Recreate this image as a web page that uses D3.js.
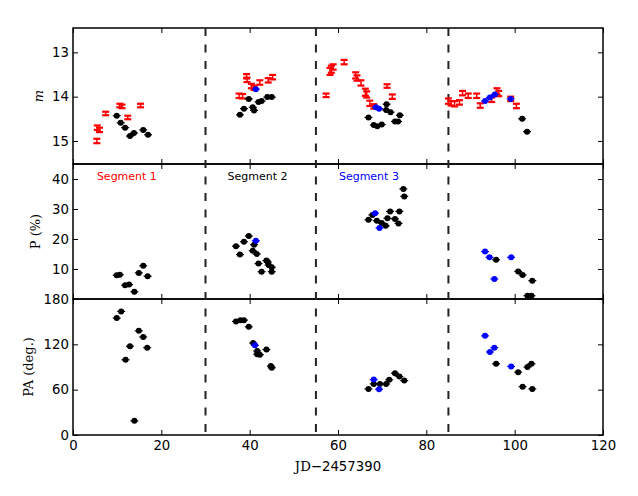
<!DOCTYPE html>
<html>
<head>
<meta charset="utf-8">
<script src="https://cdn.jsdelivr.net/npm/d3@7"></script>
<style>
  body { margin: 0; background: #fff; }
  text { font-family: "DejaVu Sans", sans-serif; }
</style>
</head>
<body>
<div id="chart"></div>
<script>
// values: [JD-2457390, value]
const segmentBounds = [30, 55, 85];
const segmentLabels = ["Segment 1", "Segment 2", "Segment 3"];
const segmentLabelX = [12.2, 41.8, 67];
const segmentColors = ["#ff0000", "#000000", "#0000ff"];

const xTicks = [0, 20, 40, 60, 80, 100, 120];
const magTicks = [13, 14, 15];
const polTicks = [10, 20, 30, 40];
const paTicks = [0, 60, 120, 180];

// magnitude, red = [x, m, err]
const magRed = [
  [5.4, 15.0, 0.05], [5.5, 14.7, 0.05], [6.0, 14.75, 0.05], [7.4, 14.38, 0.04],
  [10.6, 14.2, 0.04], [11.1, 14.22, 0.04], [12.4, 14.47, 0.04], [15.3, 14.2, 0.04],
  [37.6, 13.98, 0.05], [38.4, 13.99, 0.05], [39.3, 13.54, 0.05], [39.4, 13.62, 0.05],
  [40.4, 13.76, 0.05], [41.0, 13.8, 0.05], [42.3, 13.68, 0.05], [44.2, 13.63, 0.05],
  [45.2, 13.56, 0.05],
  [57.3, 13.97, 0.04], [58.2, 13.43, 0.08], [58.5, 13.38, 0.08], [58.9, 13.33, 0.06],
  [61.4, 13.22, 0.05], [64.0, 13.52, 0.07], [64.3, 13.58, 0.06], [65.2, 13.69, 0.06],
  [66.2, 13.9, 0.08], [66.5, 13.95, 0.07], [67.2, 14.15, 0.06], [68.1, 14.22, 0.05],
  [71.1, 13.76, 0.04], [72.3, 14.0, 0.05],
  [85.0, 14.1, 0.06], [85.6, 14.15, 0.05], [86.4, 14.16, 0.06], [87.5, 14.13, 0.05],
  [88.2, 13.92, 0.05], [89.5, 13.98, 0.05], [91.4, 13.98, 0.05], [92.2, 14.2, 0.05],
  [94.8, 14.07, 0.05], [96.0, 13.88, 0.07], [96.4, 13.93, 0.06], [99.1, 14.05, 0.05],
  [100.4, 14.21, 0.05]
];
const magBlack = [
  [9.9, 14.43], [10.8, 14.59], [11.8, 14.7], [12.9, 14.89], [13.8, 14.82], [15.9, 14.75], [17.0, 14.86],
  [37.8, 14.41], [38.7, 14.27], [39.8, 14.05], [40.7, 14.24], [41.0, 14.31], [42.0, 14.12],
  [42.7, 14.1], [44.0, 14.01], [45.0, 14.01],
  [66.9, 14.47], [68.1, 14.64], [68.9, 14.67], [69.9, 14.63], [71.0, 14.17], [70.9, 14.3],
  [71.9, 14.35], [72.9, 14.56], [73.6, 14.56], [74.0, 14.42],
  [101.7, 14.5], [102.8, 14.79]
];
const magBlue = [
  [41.4, 13.83], [68.6, 14.24], [69.3, 14.27],
  [93.3, 14.1], [94.4, 14.02], [95.5, 13.95], [99.1, 14.05]
];

// polarisation degree P (%)
const polBlack = [
  [9.9, 7.9], [10.6, 8.1], [11.8, 4.6], [12.7, 4.8], [13.9, 2.4], [14.9, 8.7], [15.9, 11.1], [16.9, 7.6],
  [36.9, 17.6], [37.8, 14.8], [38.7, 19.1], [39.8, 21.0], [41.0, 18.1], [40.7, 16.1], [41.6, 15.0],
  [42.0, 11.8], [42.7, 9.1], [43.8, 12.8], [44.1, 12.3], [44.3, 11.3], [45.0, 10.6], [45.0, 9.1],
  [74.8, 36.7], [75.0, 34.2], [66.9, 26.4], [67.8, 28.0], [68.8, 26.1], [69.9, 25.3], [70.8, 24.4],
  [71.2, 26.9], [71.8, 29.2], [72.9, 26.7], [73.7, 25.2], [73.9, 29.2],
  [95.8, 13.1], [100.8, 9.2], [101.8, 8.0], [104.0, 6.1], [102.9, 1.1], [103.8, 1.1]
];
const polBlue = [
  [41.4, 19.4], [68.4, 28.6], [69.4, 23.7],
  [93.3, 15.8], [94.3, 13.9], [95.4, 6.7], [99.2, 13.9]
];

// polarisation angle PA (deg.)
const paBlack = [
  [10.9, 163.6], [9.9, 154.7], [14.9, 137.9], [15.9, 129.8], [12.9, 117.4], [16.8, 115.6],
  [11.9, 99.6], [13.9, 18.7],
  [36.9, 150.3], [37.9, 152.0], [38.7, 152.0], [39.8, 143.2], [40.8, 121.8], [41.7, 111.2],
  [42.3, 106.3], [41.7, 107.0], [43.8, 113.0], [44.8, 91.2], [45.0, 89.0],
  [66.9, 61.0], [68.1, 67.6], [69.5, 67.6], [70.9, 67.6], [71.6, 73.0], [72.9, 81.8],
  [73.9, 77.4], [75.0, 72.0],
  [95.8, 94.3], [100.8, 83.2], [102.9, 89.9], [103.8, 94.3], [101.8, 64.0], [104.0, 61.0]
];
const paBlue = [
  [41.2, 118.7], [68.1, 73.3], [69.3, 60.5],
  [93.3, 131.2], [95.4, 115.6], [94.4, 109.9], [99.2, 90.7]
];

const width = 638;
const height = 496;
const left = 73, right = 603;
const panels = [
  { top: 28, bottom: 164 },
  { top: 164, bottom: 299 },
  { top: 299, bottom: 435 }
];

const svg = d3.select("#chart")
  .append("svg")
  .attr("width", width)
  .attr("height", height);

const x = d3.scaleLinear().domain([0, 120]).range([left, right]);
const yMag = d3.scaleLinear().domain([12.45, 15.52]).range([panels[0].top, panels[0].bottom]);
const yPol = d3.scaleLinear().domain([0, 45]).range([panels[1].bottom, panels[1].top]);
const yPA = d3.scaleLinear().domain([0, 180]).range([panels[2].bottom, panels[2].top]);

const ys = [yMag, yPol, yPA];
const yTicks = [magTicks, polTicks, paTicks];

// axes for each panel, ticks pointing inward
panels.forEach((p, i) => {
  const g = svg.append("g");
  g.append("g")
    .attr("transform", `translate(0,${p.bottom})`)
    .call(d3.axisBottom(x).tickValues(xTicks).tickSize(-5).tickPadding(6)
      .tickFormat(i === 2 ? d3.format("d") : ""));
  g.append("g")
    .attr("transform", `translate(0,${p.top})`)
    .call(d3.axisTop(x).tickValues(xTicks).tickSize(-5).tickFormat(""));
  g.append("g")
    .attr("transform", `translate(${left},0)`)
    .call(d3.axisLeft(ys[i]).tickValues(yTicks[i]).tickSize(-5).tickPadding(4).tickFormat(d3.format("d")));
  g.append("g")
    .attr("transform", `translate(${right},0)`)
    .call(d3.axisRight(ys[i]).tickValues(yTicks[i]).tickSize(-5).tickFormat(""));
  g.selectAll(".domain").remove();
  g.selectAll(".tick line").attr("stroke", "#000").attr("stroke-width", 1);
  g.selectAll(".tick text").attr("font-size", "13.3px").attr("fill", "#000")
    .style("font-family", "DejaVu Sans, sans-serif");
  g.append("rect")
    .attr("x", left).attr("y", p.top)
    .attr("width", right - left).attr("height", p.bottom - p.top)
    .attr("fill", "none").attr("stroke", "#000").attr("stroke-width", 1.5);
});

// segment boundaries
svg.selectAll("line.seg")
  .data(segmentBounds)
  .enter()
  .append("line")
  .attr("class", "seg")
  .attr("x1", d => x(d)).attr("x2", d => x(d))
  .attr("y1", panels[0].top).attr("y2", panels[2].bottom)
  .attr("stroke", "#222").attr("stroke-width", 2)
  .attr("stroke-dasharray", "8,8.5");

// red magnitude error bars
const capW = 3.5;
const red = svg.append("g").attr("stroke", "#ff0000").attr("stroke-width", 2.2);
magRed.forEach(d => {
  const y0 = yMag(d[1] - d[2]), y1 = yMag(d[1] + d[2]);
  red.append("line").attr("x1", x(d[0])).attr("x2", x(d[0])).attr("y1", y0).attr("y2", y1)
    .attr("stroke-width", 1.5);
  red.append("line").attr("x1", x(d[0]) - capW).attr("x2", x(d[0]) + capW).attr("y1", y0).attr("y2", y0);
  red.append("line").attr("x1", x(d[0]) - capW).attr("x2", x(d[0]) + capW).attr("y1", y1).attr("y2", y1);
});

// dots with small horizontal error bars
function dots(data, yScale, color) {
  const g = svg.append("g");
  g.selectAll("line")
    .data(data)
    .enter()
    .append("line")
    .attr("x1", d => x(d[0] - 0.9)).attr("x2", d => x(d[0] + 0.9))
    .attr("y1", d => yScale(d[1])).attr("y2", d => yScale(d[1]))
    .attr("stroke", color).attr("stroke-width", 1.2);
  g.selectAll("circle")
    .data(data)
    .enter()
    .append("circle")
    .attr("cx", d => x(d[0]))
    .attr("cy", d => yScale(d[1]))
    .attr("r", 3)
    .attr("fill", color);
}

dots(magBlack, yMag, "#000");
dots(magBlue, yMag, "#0000ff");
dots(polBlack, yPol, "#000");
dots(polBlue, yPol, "#0000ff");
dots(paBlack, yPA, "#000");
dots(paBlue, yPA, "#0000ff");

// segment labels
svg.selectAll("text.seglab")
  .data(segmentLabels)
  .enter()
  .append("text")
  .attr("class", "seglab")
  .attr("x", (d, i) => x(segmentLabelX[i]))
  .attr("y", 180)
  .attr("text-anchor", "middle")
  .attr("font-size", "11px")
  .attr("fill", (d, i) => segmentColors[i])
  .text(d => d);

// axis titles
svg.append("text")
  .attr("transform", `translate(43,${(panels[0].top + panels[0].bottom) / 2}) rotate(-90)`)
  .attr("text-anchor", "middle")
  .style("font-family", "DejaVu Serif, serif")
  .style("font-style", "italic")
  .attr("font-size", "13px")
  .text("m");

svg.append("text")
  .attr("transform", `translate(40,${(panels[1].top + panels[1].bottom) / 2}) rotate(-90)`)
  .attr("text-anchor", "middle")
  .style("font-family", "DejaVu Serif, serif")
  .attr("font-size", "13px")
  .text("P (%)");

svg.append("text")
  .attr("transform", `translate(33,${(panels[2].top + panels[2].bottom) / 2}) rotate(-90)`)
  .attr("text-anchor", "middle")
  .style("font-family", "DejaVu Serif, serif")
  .attr("font-size", "13px")
  .text("PA (deg.)");

const xl = svg.append("text")
  .attr("x", (left + right) / 2)
  .attr("y", 471)
  .attr("text-anchor", "middle")
  .attr("font-size", "13.3px");
xl.append("tspan").style("font-family", "DejaVu Serif, serif").text("JD\u2212");
xl.append("tspan").style("font-family", "DejaVu Sans, sans-serif").text("2457390");
</script>
</body>
</html>
